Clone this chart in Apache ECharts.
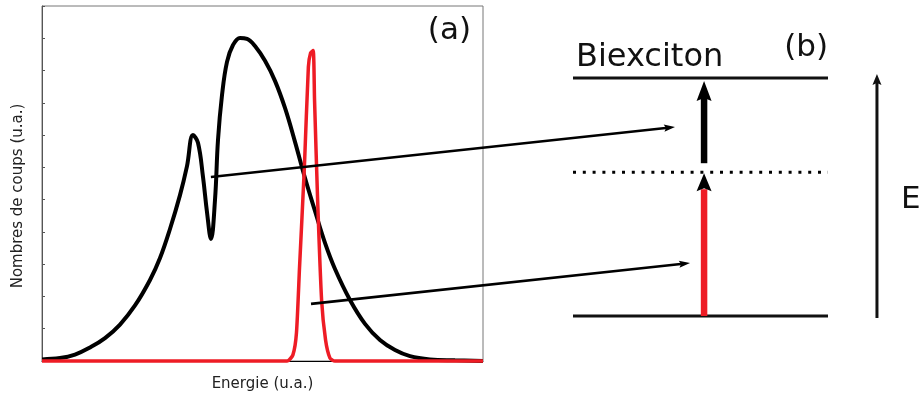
<!DOCTYPE html>
<html>
<head>
<meta charset="utf-8">
<script src="https://cdn.jsdelivr.net/npm/echarts@6/dist/echarts.min.js"></script>
<style>
  html, body { margin: 0; padding: 0; background: #fff; }
  #chart { width: 920px; height: 398px; }
</style>
</head>
<body>
<div id="chart"></div>
<script>
// ---- (a) emission spectrum and laser line ----
const energy = [0, 4.08, 7.48, 10.88, 14.29, 17.69, 21.09, 24.49, 26.76, 29.02, 31.29, 32.88, 34.24, 35.37, 36.51, 37.41, 38.32, 39.23, 39.91, 40.82, 41.95, 43.31, 44.90, 46.49, 48.30, 50.57, 52.83, 55.10, 57.37, 59.64, 61.90, 64.17, 66.44, 69.84, 73.24, 76.64, 80.05, 83.45, 87.98, 93.65, 100];
const counts = [0.05, 0.09, 0.20, 0.42, 0.71, 1.13, 1.72, 2.51, 3.19, 4.09, 5.14, 6.04, 7.00, 6.76, 5.70, 4.62, 3.78, 4.99, 6.85, 8.24, 9.27, 9.79, 10.01, 9.98, 9.76, 9.30, 8.68, 7.84, 6.79, 5.67, 4.65, 3.66, 2.85, 1.89, 1.15, 0.65, 0.34, 0.15, 0.05, 0.02, 0];
const laserEnergy = [0, 55.6, 56.9, 57.7, 58.4, 59.5, 60.4, 60.9, 61.5, 61.8, 62.5, 63.4, 64.3, 65.3, 66.4, 100];
const laserCounts = [0, 0, 0.19, 0.87, 2.91, 6.01, 9.11, 9.54, 9.62, 8.09, 4.99, 1.89, 0.65, 0.09, 0, 0];
const countMax = 11;

// ---- (b) level scheme ----
const levelEnergy = [0, 1.45, 2.4];          // ground, virtual, biexciton
const levelNames = ['', '', 'Biexciton'];
const levelSpan = [0, 100];
const transitionX = 51.4;
const transitions = [[0, 1.45], [1.45, 2.4]]; // laser photon, second photon
const energyAxis = [119.2, -0.02, 2.44];      // x, from, to

// arrows from spectrum features [energy, counts] to scheme points [x, E]
const links = [
  { from: [38.3, 5.70], to: [40.0, 1.906] },
  { from: [61.0, 1.77], to: [45.9, 0.534] }
];

const RED = '#ee1c25';
const INK = '#000';
const FONT = 'DejaVu Sans';

function head(tipX, tipY, dx, dy, len, half, notch) {
  const px = -dy, py = dx;
  return [
    [tipX, tipY],
    [tipX - dx * len + px * half, tipY - dy * len + py * half],
    [tipX - dx * (len - notch), tipY - dy * (len - notch)],
    [tipX - dx * len - px * half, tipY - dy * len - py * half]
  ];
}

const chart = echarts.init(document.getElementById('chart'), null, { renderer: 'canvas' });

chart.setOption({
  animation: false,
  backgroundColor: '#fff',
  grid: [
    { left: 42, top: 6, width: 441, height: 355, show: true, borderColor: '#777', borderWidth: 1, backgroundColor: 'transparent' },
    { left: 573, top: 78, width: 306, height: 238, show: false }
  ],
  xAxis: [
    {
      gridIndex: 0, type: 'value', min: 0, max: 100,
      axisLine: { show: true, lineStyle: { color: '#000', width: 1 } },
      axisTick: { show: false }, axisLabel: { show: false }, splitLine: { show: false },
      name: 'Energie (u.a.)', nameLocation: 'middle', nameGap: 16,
      nameTextStyle: { fontFamily: FONT, fontSize: 15, color: '#222' }
    },
    { gridIndex: 1, type: 'value', min: 0, max: 120, show: false }
  ],
  yAxis: [
    {
      gridIndex: 0, type: 'value', min: 0, max: countMax, interval: 1,
      axisLine: { show: true, lineStyle: { color: '#555', width: 1 } },
      axisTick: { show: true, inside: true, length: 3, lineStyle: { color: '#555' } },
      axisLabel: { show: false }, splitLine: { show: false }
    },
    { gridIndex: 1, type: 'value', min: 0, max: 2.4, show: false }
  ],
  series: [
    {
      type: 'line', xAxisIndex: 0, yAxisIndex: 0, clip: false,
      data: energy.map((e, i) => [e, counts[i]]),
      smooth: 0.4, showSymbol: false,
      lineStyle: { color: INK, width: 4 }, z: 3
    },
    {
      type: 'line', xAxisIndex: 0, yAxisIndex: 0, clip: false,
      data: laserEnergy.map((e, i) => [e, laserCounts[i]]),
      smooth: 0.2, showSymbol: false,
      lineStyle: { color: RED, width: 3.5 }, z: 4
    },
    {
      // energy levels
      type: 'custom', xAxisIndex: 1, yAxisIndex: 1, clip: false,
      data: levelEnergy.map((v, i) => [v, i]),
      renderItem: function (params, api) {
        const i = params.dataIndex;
        const a = api.coord([levelSpan[0], api.value(0)]);
        const b = api.coord([levelSpan[1], api.value(0)]);
        const children = [{
          type: 'line',
          shape: { x1: a[0], y1: a[1], x2: b[0], y2: b[1] },
          style: i === 1
            ? { stroke: INK, lineWidth: 3, lineDash: [3, 6.8], lineCap: 'butt' }
            : { stroke: '#111', lineWidth: 3 }
        }];
        if (levelNames[i]) {
          children.push({
            type: 'text',
            style: { text: levelNames[i], x: a[0] + 3, y: a[1] - 4, fill: '#111', font: '32px "' + FONT + '"', verticalAlign: 'bottom', align: 'left' }
          });
        }
        return { type: 'group', children: children };
      }
    },
    {
      // transitions
      type: 'custom', xAxisIndex: 1, yAxisIndex: 1, clip: false,
      data: transitions,
      renderItem: function (params, api) {
        const i = params.dataIndex;
        const a = api.coord([transitionX, api.value(0)]);
        const b = api.coord([transitionX, api.value(1)]);
        const x = a[0];
        if (i === 0) {
          const tip = b[1] + 1;
          return { type: 'group', children: [
            { type: 'line', shape: { x1: x, y1: a[1], x2: x, y2: tip + 16 }, style: { stroke: RED, lineWidth: 6.5 } },
            { type: 'polygon', shape: { points: head(x, tip, 0, -1, 18, 7.5, 3) }, style: { fill: INK } }
          ] };
        }
        const tip = b[1] + 3;
        return { type: 'group', children: [
          { type: 'line', shape: { x1: x, y1: a[1] - 9, x2: x, y2: tip + 17 }, style: { stroke: INK, lineWidth: 6.5 } },
          { type: 'polygon', shape: { points: head(x, tip, 0, -1, 20, 7.5, 3) }, style: { fill: INK } }
        ] };
      }
    },
    {
      // energy axis
      type: 'custom', xAxisIndex: 1, yAxisIndex: 1, clip: false,
      data: [energyAxis],
      renderItem: function (params, api) {
        const a = api.coord([api.value(0), api.value(1)]);
        const b = api.coord([api.value(0), api.value(2)]);
        return { type: 'group', children: [
          { type: 'line', shape: { x1: a[0], y1: a[1], x2: b[0], y2: b[1] + 8 }, style: { stroke: '#111', lineWidth: 3 } },
          { type: 'polygon', shape: { points: head(b[0], b[1], 0, -1, 11, 4.5, 2) }, style: { fill: '#111' } },
          { type: 'text', style: { text: 'E', x: a[0] + 24, y: (a[1] + b[1]) / 2 + 19, fill: '#111', font: '31px "' + FONT + '"', verticalAlign: 'bottom', align: 'left' } }
        ] };
      }
    }
  ]
});

// panel labels and linking arrows
const graphics = [
  { type: 'text', right: 920 - 471, top: 15, style: { text: '(a)', fill: '#111', font: '31px "' + FONT + '"' }, z: 10 },
  { type: 'text', right: 920 - 828, top: 32, style: { text: '(b)', fill: '#111', font: '31px "' + FONT + '"' }, z: 10 },
  { type: 'text', x: 18, y: 196, rotation: Math.PI / 2, style: { text: 'Nombres de coups (u.a.)', x: 0, y: 0, fill: '#222', font: '15px "' + FONT + '"', align: 'center', verticalAlign: 'middle' }, z: 10 }
];
links.forEach(function (l) {
  const p = chart.convertToPixel({ gridIndex: 0 }, l.from);
  const q = chart.convertToPixel({ gridIndex: 1 }, l.to);
  const len = Math.hypot(q[0] - p[0], q[1] - p[1]);
  const dx = (q[0] - p[0]) / len, dy = (q[1] - p[1]) / len;
  graphics.push({ type: 'line', shape: { x1: p[0], y1: p[1], x2: q[0] - dx * 7, y2: q[1] - dy * 7 }, style: { stroke: INK, lineWidth: 2.6 }, z: 10 });
  graphics.push({ type: 'polygon', shape: { points: head(q[0], q[1], dx, dy, 11, 3.6, 2) }, style: { fill: INK }, z: 10 });
});
chart.setOption({ graphic: graphics });
</script>
</body>
</html>
